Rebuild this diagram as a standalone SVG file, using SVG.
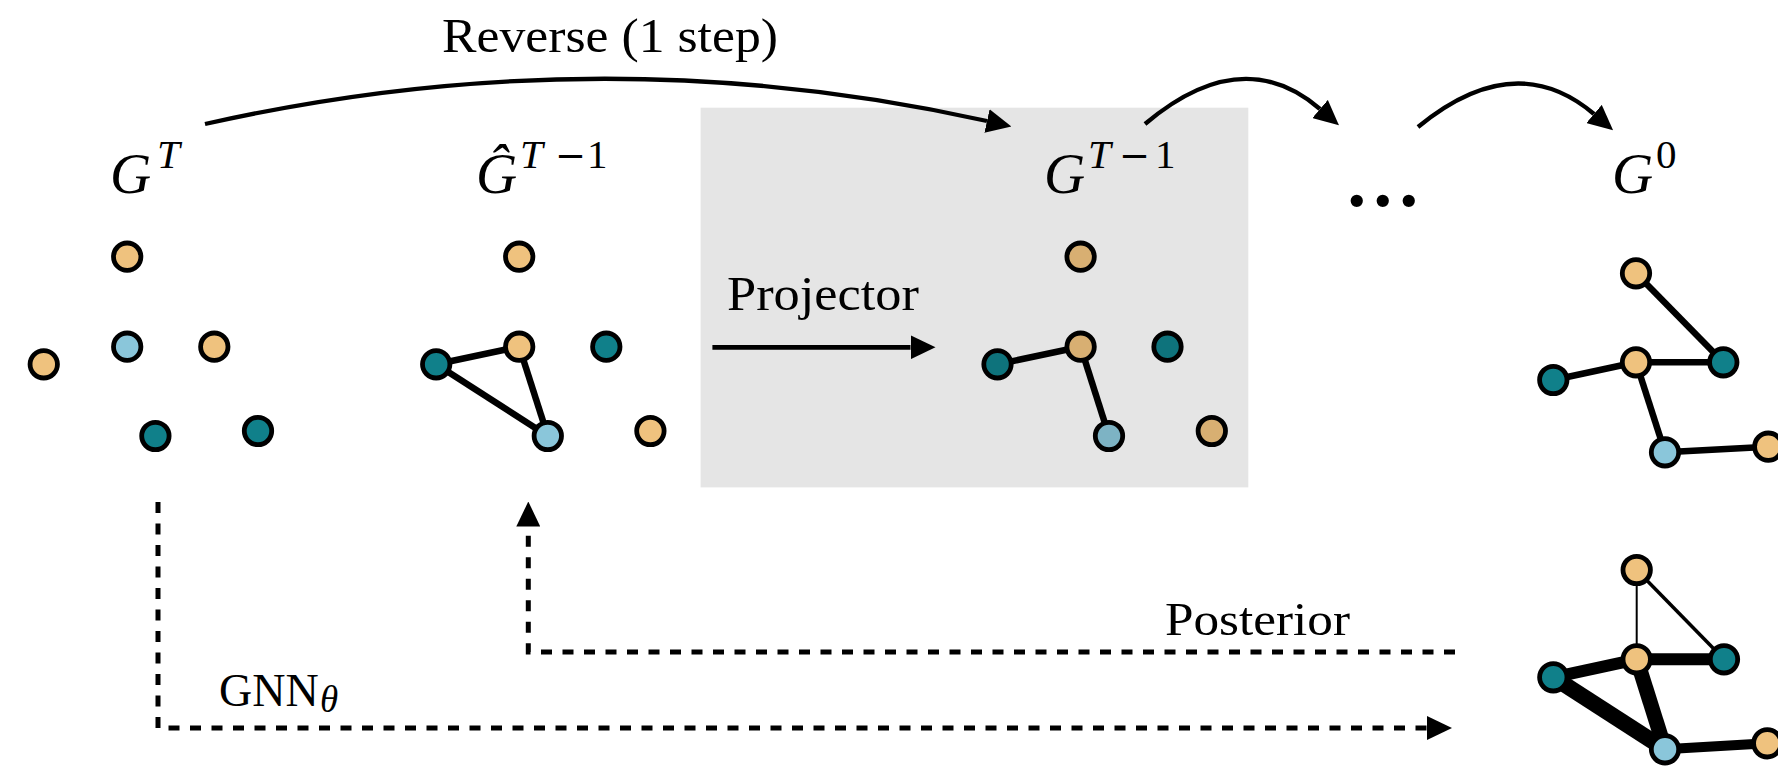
<svg xmlns="http://www.w3.org/2000/svg" width="1778" height="769" viewBox="0 0 1778 769">
<style>
  .txt { font-family: "Liberation Serif", "DejaVu Serif", serif; fill: #000; }
  .lbl { font-size: 48px; }
  .mi { font-family: "Liberation Serif", "DejaVu Serif", serif; font-style: italic; font-size: 57px; fill: #000; }
  .sup { font-size: 41px; }
  .up { font-style: normal; }
  .minus { font-family: "DejaVu Sans", sans-serif; font-style: normal; font-size: 37px; }
  .n { stroke: #000; stroke-width: 4.8; }
  .or { fill: #EFC27E; }
  .te { fill: #10808A; }
  .lb { fill: #8AC6DA; }
  .or2 { fill: #D8AF72; }
  .te2 { fill: #0E737C; }
  .lb2 { fill: #7DB3C4; }
  .e { stroke: #000; stroke-width: 6.5; fill: none; }
  .arc { stroke: #000; stroke-width: 4.3; fill: none; }
  .dash { stroke: #000; stroke-width: 5; fill: none; stroke-dasharray: 11 10.5; }
</style>
<defs>
  <marker id="ah" markerUnits="userSpaceOnUse" viewBox="0 0 25 24" markerWidth="25" markerHeight="24" refX="0" refY="12" orient="auto">
    <path d="M0,0 L25,12 L0,24 z" fill="#000"/>
  </marker>
</defs>

<rect id="projector-box" x="700.6" y="107.7" width="547.7" height="379.7" fill="#E5E5E5"/>

<g id="connectors">
  <path id="c-reverse" class="arc" d="M205,124 Q600,35 987,121" marker-end="url(#ah)"/>
  <path id="c-step2" class="arc" d="M1145,124 Q1242,42 1320,109" marker-end="url(#ah)"/>
  <path id="c-step3" class="arc" d="M1418,127 Q1515,47 1594,114" marker-end="url(#ah)"/>
  <path id="c-projector" class="arc" d="M712.4,347.3 H910.5" marker-end="url(#ah)" style="stroke-width:4.8"/>
  <path id="c-gnn" class="dash" d="M158,502 V728 H1427" marker-end="url(#ah)"/>
  <path id="c-posterior" class="dash" d="M1455,652 H528.3 V526.5" marker-end="url(#ah)"/>
</g>

<g id="labels">
  <text class="txt lbl" x="442" y="52" textLength="336" lengthAdjust="spacingAndGlyphs">Reverse (1 step)</text>
  <text class="txt lbl" x="727" y="310" textLength="192" lengthAdjust="spacingAndGlyphs">Projector</text>
  <text class="txt" x="1165" y="635" font-size="47" textLength="185" lengthAdjust="spacingAndGlyphs">Posterior</text>
  <text class="txt" x="219" y="706" font-size="46">GNN<tspan x="320" y="712" font-size="37" font-style="italic">θ</tspan></text>
  <text class="txt" x="1343.7" y="205.7" font-size="104">...</text>
</g>

<g id="graph-GT">
  <text class="mi" x="110" y="192.5">G<tspan class="sup" x="157" y="168">T</tspan></text>
  <g id="gT-top"><circle class="n or" cx="127.2" cy="256.7" r="13.7"/></g>
  <g id="gT-mid"><circle class="n lb" cx="127.2" cy="346.7" r="13.7"/></g>
  <g id="gT-right"><circle class="n or" cx="214.3" cy="346.7" r="13.7"/></g>
  <g id="gT-left"><circle class="n or" cx="43.75" cy="364.3" r="13.7"/></g>
  <g id="gT-bm"><circle class="n te" cx="155.4" cy="436" r="13.7"/></g>
  <g id="gT-br"><circle class="n te" cx="258" cy="431" r="13.7"/></g>
</g>

<g id="graph-Ghat">
  <text class="mi" x="476" y="192.5">Ĝ<tspan class="sup" x="520" y="168">T</tspan><tspan class="minus" x="555" y="168">−</tspan><tspan class="sup up" x="587" y="168">1</tspan></text>
  <g id="ghat-edges">
    <line class="e" x1="436.2" y1="364.3" x2="519.2" y2="346.7"/>
    <line class="e" x1="436.2" y1="364.3" x2="547.8" y2="436"/>
    <line class="e" x1="519.2" y1="346.7" x2="547.8" y2="436"/>
  </g>
  <g id="ghat-top"><circle class="n or" cx="519.2" cy="256.7" r="13.7"/></g>
  <g id="ghat-mid"><circle class="n or" cx="519.2" cy="346.7" r="13.7"/></g>
  <g id="ghat-left"><circle class="n te" cx="436.2" cy="364.3" r="13.7"/></g>
  <g id="ghat-right"><circle class="n te" cx="606.3" cy="346.7" r="13.7"/></g>
  <g id="ghat-bm"><circle class="n lb" cx="547.8" cy="436" r="13.7"/></g>
  <g id="ghat-br"><circle class="n or" cx="650.4" cy="431" r="13.7"/></g>
</g>

<g id="graph-GT1">
  <text class="mi" x="1044" y="192.5">G<tspan class="sup" x="1088" y="168">T</tspan><tspan class="minus" x="1119" y="168">−</tspan><tspan class="sup up" x="1155" y="168">1</tspan></text>
  <g id="gt1-edges">
    <line class="e" x1="997.5" y1="364.3" x2="1080.6" y2="346.7"/>
    <line class="e" x1="1080.6" y1="346.7" x2="1109" y2="436"/>
  </g>
  <g id="gt1-top"><circle class="n or2" cx="1080.6" cy="256.7" r="13.7"/></g>
  <g id="gt1-mid"><circle class="n or2" cx="1080.6" cy="346.7" r="13.7"/></g>
  <g id="gt1-left"><circle class="n te2" cx="997.5" cy="364.3" r="13.7"/></g>
  <g id="gt1-right"><circle class="n te2" cx="1167.5" cy="346.7" r="13.7"/></g>
  <g id="gt1-bm"><circle class="n lb2" cx="1109" cy="436" r="13.7"/></g>
  <g id="gt1-br"><circle class="n or2" cx="1211.8" cy="431" r="13.7"/></g>
</g>

<g id="graph-G0">
  <text class="mi" x="1612" y="192.5">G<tspan class="sup up" x="1656" y="168">0</tspan></text>
  <g id="g0-edges">
    <line class="e" x1="1636" y1="273.3" x2="1723.3" y2="362.3"/>
    <line class="e" x1="1636" y1="362.3" x2="1723.3" y2="362.3"/>
    <line class="e" x1="1553.3" y1="380" x2="1636" y2="362.3"/>
    <line class="e" x1="1636" y1="362.3" x2="1665" y2="452.3"/>
    <line class="e" x1="1665" y1="452.3" x2="1768.3" y2="446.7"/>
  </g>
  <g id="g0-top"><circle class="n or" cx="1636" cy="273.3" r="13.7"/></g>
  <g id="g0-mid"><circle class="n or" cx="1636" cy="362.3" r="13.7"/></g>
  <g id="g0-tr"><circle class="n te" cx="1723.3" cy="362.3" r="13.7"/></g>
  <g id="g0-tl"><circle class="n te" cx="1553.3" cy="380" r="13.7"/></g>
  <g id="g0-lb"><circle class="n lb" cx="1665" cy="452.3" r="13.7"/></g>
  <g id="g0-fr"><circle class="n or" cx="1768.3" cy="446.7" r="13.7"/></g>
</g>

<g id="graph-posterior">
  <g id="gp-edges">
    <line stroke="#000" stroke-width="2" x1="1636.7" y1="570" x2="1636.7" y2="659.3"/>
    <line stroke="#000" stroke-width="3.5" x1="1636.7" y1="570" x2="1724" y2="659.3"/>
    <line stroke="#000" stroke-width="12" x1="1636.7" y1="659.3" x2="1724" y2="659.3"/>
    <line stroke="#000" stroke-width="12" x1="1553.3" y1="677.3" x2="1636.7" y2="659.3"/>
    <line stroke="#000" stroke-width="16" x1="1553.3" y1="677.3" x2="1665" y2="749.3"/>
    <line stroke="#000" stroke-width="15" x1="1636.7" y1="659.3" x2="1665" y2="749.3"/>
    <line stroke="#000" stroke-width="10" x1="1665" y1="749.3" x2="1767.3" y2="743.3"/>
  </g>
  <g id="gp-top"><circle class="n or" cx="1636.7" cy="570" r="13.7"/></g>
  <g id="gp-mid"><circle class="n or" cx="1636.7" cy="659.3" r="13.7"/></g>
  <g id="gp-tr"><circle class="n te" cx="1724" cy="659.3" r="13.7"/></g>
  <g id="gp-tl"><circle class="n te" cx="1553.3" cy="677.3" r="13.7"/></g>
  <g id="gp-lb"><circle class="n lb" cx="1665" cy="749.3" r="13.7"/></g>
  <g id="gp-fr"><circle class="n or" cx="1767.3" cy="743.3" r="13.7"/></g>
</g>
</svg>
